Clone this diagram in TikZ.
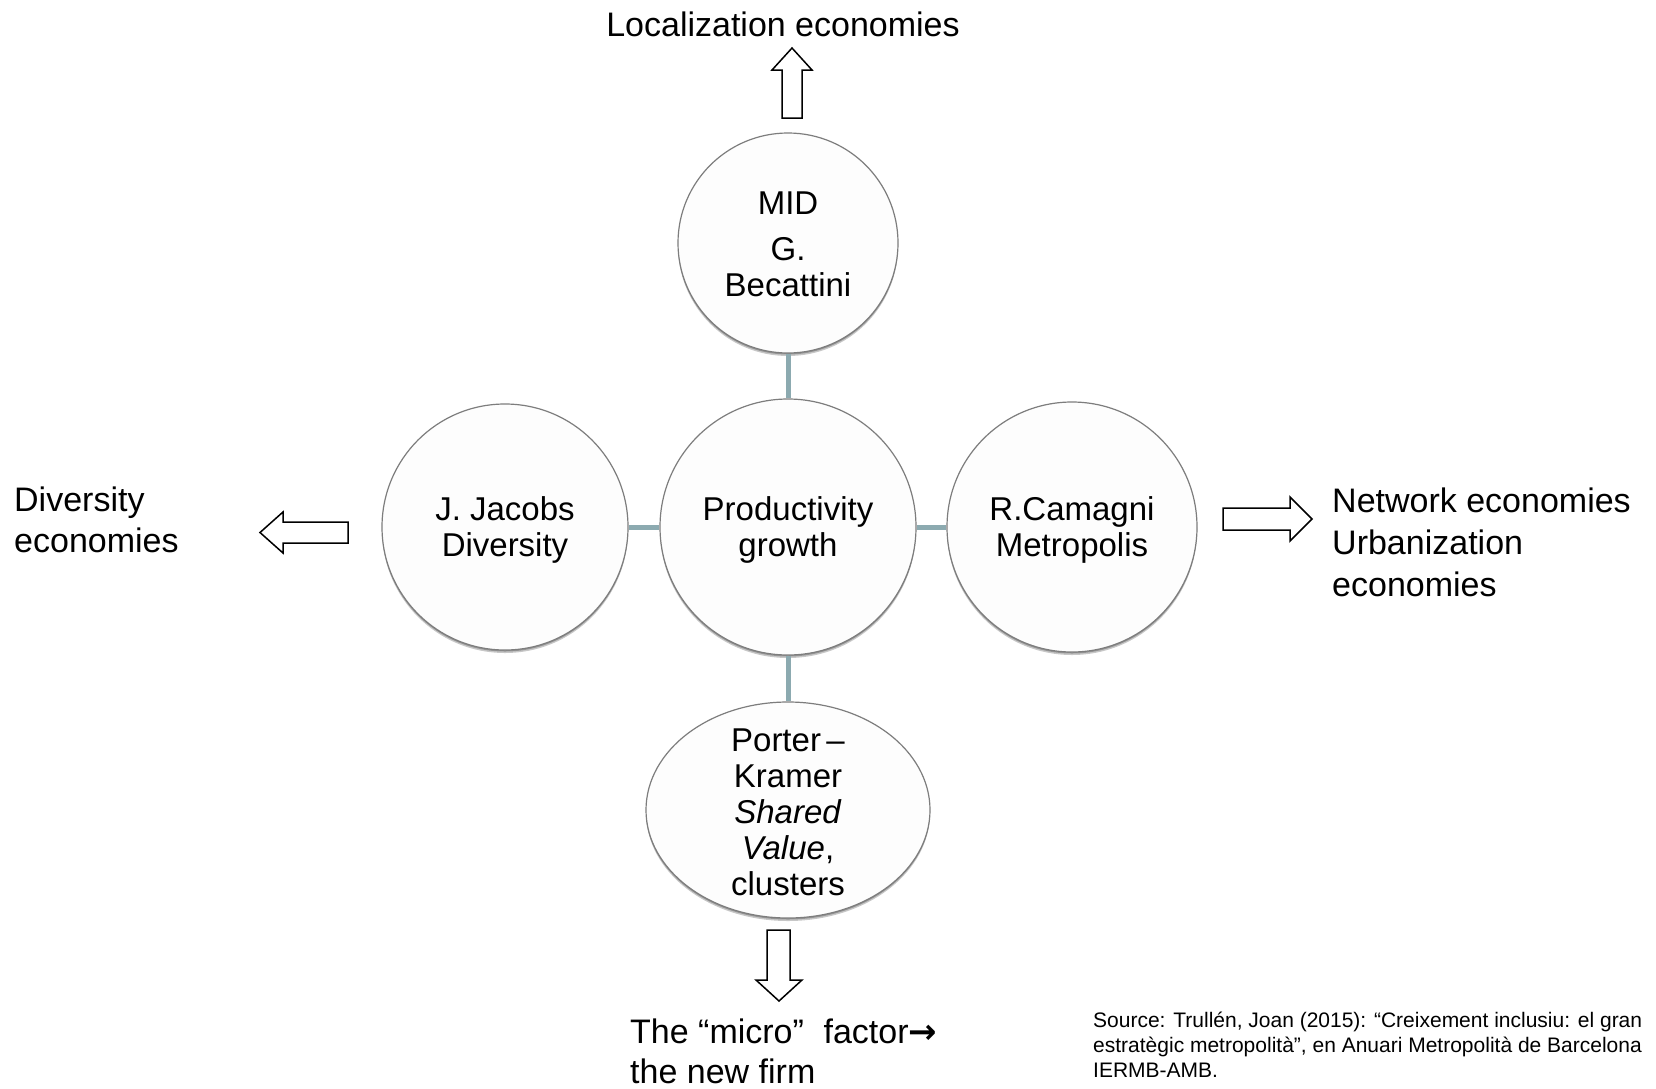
\documentclass[tikz,border=0pt]{standalone}
\usepackage{fontspec}
\setmainfont{Liberation Sans}
\newfontfamily\arrowfont{DejaVu Sans}
\usetikzlibrary{shadows,shapes.geometric}
\definecolor{conn}{RGB}{140,170,176}
\definecolor{rim}{RGB}{125,125,125}
\definecolor{bubfill}{RGB}{253,253,253}
\begin{document}
\begin{tikzpicture}[x=1bp,y=-1bp,
  bub/.style={draw=rim, line width=1.2bp, fill=bubfill, inner sep=0pt,
    drop shadow={shadow xshift=0bp, shadow yshift=-3bp, opacity=0.22, fill=black},
    drop shadow={shadow xshift=0bp, shadow yshift=-1.5bp, opacity=0.25, fill=black}},
  bubtext/.style={align=center, inner sep=0pt, font=\fontsize{33bp}{36bp}\selectfont},
  link/.style={draw=conn, line width=5bp},
  blockarrow/.style={draw=black, line width=1.5bp, fill=white, line join=miter},
  lbl/.style={inner sep=0pt, align=left, font=\fontsize{34bp}{41bp}\selectfont},
  srcstyle/.style={inner sep=0pt, align=left, font=\fontsize{21bp}{25bp}\selectfont}
]
\useasboundingbox[fill=white] (0,0) rectangle (1656,1088);

% bubbles
\node[bub, circle, minimum size=220bp] (mid) at (788,243) {};
\node[bub, circle, minimum size=256bp] (prod) at (788,527) {};
\node[bub, circle, minimum size=246bp] (jac) at (505,527) {};
\node[bub, circle, minimum size=250bp] (cam) at (1072,527) {};
\node[bub, ellipse, minimum width=284bp, minimum height=216bp] (por) at (788,810) {};

\node[bubtext] (midtx) at ([yshift=-1bp]mid.center) {MID\\[10bp] G.\\ Becattini};
\node[bubtext] (prodtx) at ([yshift=-3bp]prod.center) {Productivity\\ growth};
\node[bubtext] (jactx) at ([yshift=-3bp]jac.center) {J. Jacobs\\ Diversity};
\node[bubtext] (camtx) at ([yshift=-3bp]cam.center) {R.Camagni\\ Metropolis};
\node[bubtext] (portx) at ([yshift=-2bp]por.center) {Porter\,–\\ Kramer\\ \textit{Shared}\\ \textit{Value},\\ clusters};

% connectors
\draw[link] (mid) -- (prod);
\draw[link] (jac) -- (prod);
\draw[link] (prod) -- (cam);
\draw[link] (prod) -- (por);

% block arrows
\draw[blockarrow] (782,118) -- (782,70) -- (772,70) -- (792,48) -- (812,70) -- (802,70) -- (802,118) -- cycle;
\draw[blockarrow] (348,522) -- (283,522) -- (283,512) -- (260,532.5) -- (283,553) -- (283,543) -- (348,543) -- cycle;
\draw[blockarrow] (1223,508) -- (1290,508) -- (1290,497) -- (1312,519) -- (1290,541) -- (1290,530) -- (1223,530) -- cycle;
\draw[blockarrow] (767,930) -- (767,980) -- (756,980) -- (779,1001) -- (802,980) -- (790,980) -- (790,930) -- cycle;

% labels
\node[lbl, anchor=north] (loc) at (783,12) {Localization economies};
\node[lbl, anchor=north west] (div) at (14,487) {Diversity\\ economies};
\node[lbl, anchor=north west, font=\fontsize{34bp}{42bp}\selectfont] (net) at (1332,488) {Network economies\\ Urbanization\\ economies};
\node[lbl, anchor=north west, font=\fontsize{34bp}{40bp}\selectfont] (micro) at (630,1019) {The “micro”\hspace{0.3em} factor{\arrowfont\bfseries →}\\ the new firm};
\node[srcstyle, anchor=north west] (src) at (1093,1012) {Source: Trullén, Joan (2015): “Creixement inclusiu: el gran\\ estratègic metropolità”, en Anuari Metropolità de Barcelona\\ IERMB-AMB.};
\end{tikzpicture}
\end{document}
